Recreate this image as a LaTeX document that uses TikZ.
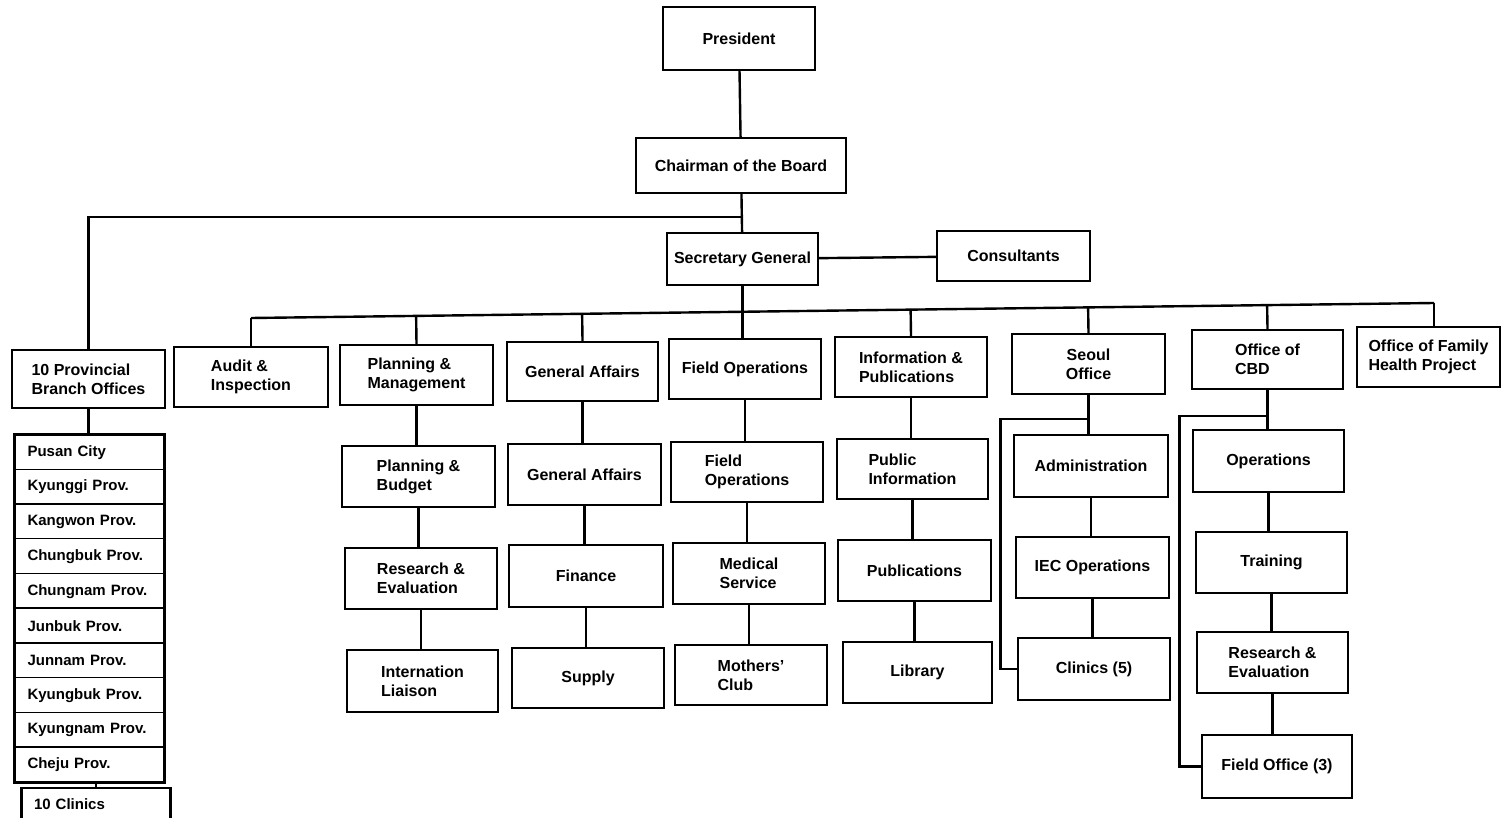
\documentclass[tikz,border=0pt]{standalone}
\usepackage{fontspec}
\setmainfont{Liberation Sans}
\usetikzlibrary{calc}
\tikzset{
  box/.style={draw, line width=1.2pt, inner sep=1pt, font=\bfseries\fontsize{8}{9.5}\selectfont, align=left},
  link/.style={line width=1.2pt},
  thinlink/.style={line width=0.7pt},
  rowbox/.style={inner sep=0pt, font=\bfseries\fontsize{7.5}{9}\selectfont,
    text width=62pt, align=left, minimum width=74.5pt, minimum height=17.35pt}
}
\newcommand\bx[7][]{\node[box,#1, minimum width={(#5-#3)*0.5pt}, minimum height={(#6-#4)*0.5pt}] (#2) at ({(#3+#5)/2},{(#4+#6)/2}) {#7};}
\newcommand\vl[2]{\draw[link] (#1.south) -- (#1.south |- #2.north);}
\begin{document}
\begin{tikzpicture}[x=0.5pt,y=-0.5pt]
\useasboundingbox (0,0) rectangle (1503,818);
\clip (0,0) rectangle (1503,818);
% top
\bx{pres}{663}{7}{815}{70}{President}
\bx{chair}{636}{138}{846}{193}{Chairman of the Board}
\bx{sg}{667}{233}{818}{285}{Secretary General}
\bx{cons}{937}{231}{1090}{281}{Consultants}
\bx{prov}{12}{350}{165}{408}{10 Provincial\\Branch Offices}
% first level
\bx{audit}{174}{347}{328}{407}{Audit \&\\Inspection}
\bx{pm}{340}{345}{493}{405}{Planning \&\\Management}
\bx{ga}{507}{342}{658}{401}{General Affairs}
\bx{fo}{669}{339}{821}{399}{Field Operations}
\bx{ip}{835}{337}{987}{397}{Information \&\\Publications}
\bx[align=center]{seoul}{1012}{334}{1165}{394}{Seoul\\Office}
\bx{cbd}{1192}{330}{1343}{389}{Office of\\CBD}
\bx{fhp}{1357}{327}{1500}{387}{Office of Family\\Health Project}
% second level
\bx{pb}{342}{446}{495}{507}{Planning \&\\Budget}
\bx{ga2}{508}{444}{661}{505}{General Affairs}
\bx{fo2}{671}{442}{823}{502}{Field\\Operations}
\bx{pi}{837}{439}{988}{499}{Public\\Information}
\bx{adm}{1014}{435}{1168}{497}{Administration}
\bx{ops}{1193}{430}{1344}{492}{Operations}
% third level
\bx{re}{345}{548}{497}{609}{Research \&\\Evaluation}
\bx{fin}{509}{545}{663}{607}{Finance}
\bx{med}{673}{543}{825}{604}{Medical\\Service}
\bx{pub}{838}{540}{991}{601}{Publications}
\bx{iec}{1016}{537}{1169}{598}{IEC Operations}
\bx{trn}{1196}{532}{1347}{593}{Training}
% fourth level
\bx{il}{347}{650}{498}{712}{Internation\\Liaison}
\bx{sup}{512}{648}{664}{708}{Supply}
\bx{mc}{675}{645}{827}{705}{Mothers'\\Club}
\bx{lib}{843}{642}{992}{703}{Library}
\bx{cl5}{1018}{638}{1170}{700}{Clinics (5)}
\bx{re2}{1197}{632}{1348}{693}{Research \&\\Evaluation}
\bx{fo3}{1202}{735}{1352}{798}{Field Office (3)}
% provincial list
\foreach \t [count=\i] in {Pusan City, Kyunggi Prov., Kangwon Prov., Chungbuk Prov., Chungnam Prov., Junbuk Prov., Junnam Prov., Kyungbuk Prov., Kyungnam Prov., Cheju Prov.}
  \node[rowbox] (p\i) at (89.5,{435+34.7*(\i-0.5)}) {\t};
\draw[line width=1.3pt] (p1.north west) rectangle (p10.south east);
\foreach \i in {2,...,10} \draw[thinlink] (p\i.north west) -- (p\i.north east);
\node[rowbox, draw, line width=1.2pt, minimum height=16pt] (clin10) at (96,{788+16}) {10 Clinics};
% connectors
\draw[link] (pres) -- (chair);
\draw[link] (chair) -- (sg);
\path (chair.south) ++(0,23) coordinate (lj);
\draw[link] (lj) -| (prov.north);
\draw[link] (sg) -- (cons);
\coordinate (busL) at (251,318);
\coordinate (busR) at (1434,303);
\draw[link] (busL) -- (busR);
\draw[link] (sg.south) -- (sg.south |- fo.north);
\draw[link] (busL) -- (audit.north);
\foreach \n in {pm,ga,ip,seoul,cbd}
  \draw[link] ($(busL)!(\n.north)!(busR)$) -- (\n.north);
\draw[link] (busR) -- (busR |- fhp.north);
\vl{pm}{pb} \vl{pb}{re} \vl{re}{il}
\vl{ga}{ga2} \vl{ga2}{fin} \vl{fin}{sup}
\vl{fo2}{med} \vl{med}{mc}
\draw[link] (fo.south) -- (fo.south |- fo2.north);
\vl{ip}{pi} \vl{pi}{pub} \vl{pub}{lib}
\vl{seoul}{adm} \vl{adm}{iec} \vl{iec}{cl5}
\vl{cbd}{ops} \vl{ops}{trn} \vl{trn}{re2} \vl{re2}{fo3}
\draw[link] (prov.south) -- (prov.south |- p1.north);
\draw[link] (p10.south -| clin10.north) -- (clin10.north);
\path (seoul.south) ++(0,24) coordinate (sj);
\draw[link] (sj) -- ++(-88,0) |- (cl5.west);
\path (cbd.south) ++(0,26) coordinate (cj);
\draw[link] (cj) -- ++(-88,0) |- (fo3.west);
\end{tikzpicture}
\end{document}
